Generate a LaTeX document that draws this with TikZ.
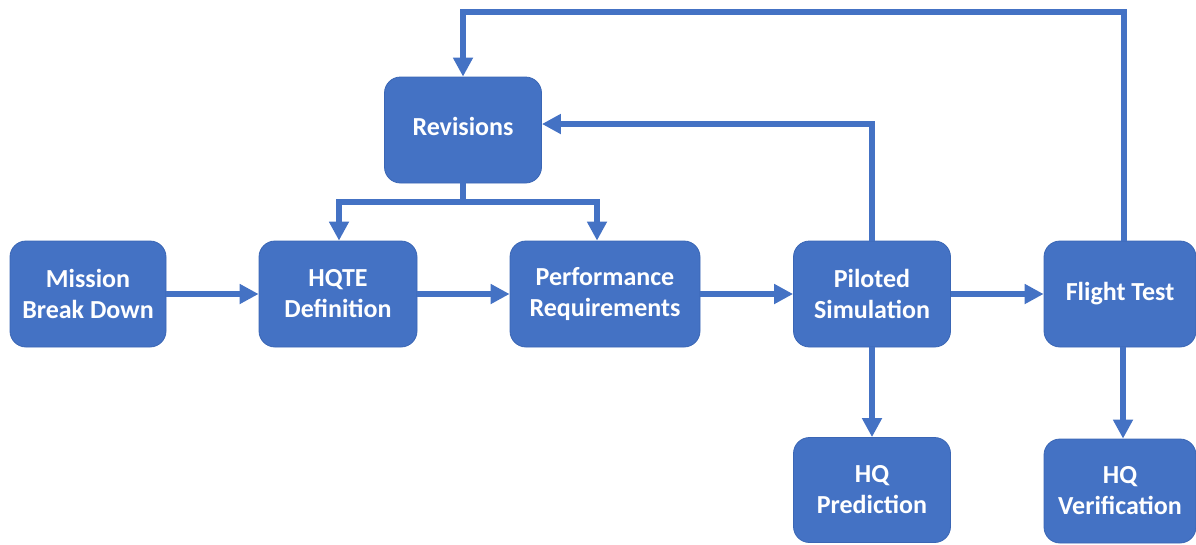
\documentclass[tikz,border=0pt]{standalone}
\usepackage{fontspec}
\setmainfont{Carlito}
\usetikzlibrary{arrows.meta}
\definecolor{boxblue}{HTML}{4472C4}
\definecolor{edgeblue}{HTML}{3A66B5}
\begin{document}
\begin{tikzpicture}[x=1pt,y=-1pt,
  box/.style={rectangle, rounded corners=16pt, fill=boxblue, draw=edgeblue, line width=0.8pt,
    text=white, font=\fontsize{26}{31}\selectfont\bfseries, align=center,
    minimum height=106pt, inner sep=0pt},
  conn/.style={draw=boxblue, line width=5.5pt, -{Triangle[length=19pt,width=19pt]}},
  plain/.style={draw=boxblue, line width=5.5pt}]
\useasboundingbox (0,0) rectangle (1196,544);
\node[box, minimum width=156pt] (mission) at (88,294) {Mission\\Break Down};
\node[box, minimum width=158pt] (hqte) at (338,294) {HQTE\\Definition};
\node[box, minimum width=190pt] (perf) at (605,294) {Performance\\Requirements};
\node[box, minimum width=157pt] (pilot) at (872,294) {Piloted\\Simulation};
\node[box, minimum width=152pt] (flight) at (1120,294) {Flight Test};
\node[box, minimum width=157pt, text depth=8pt] (rev) at (463,130) {Revisions};
\node[box, minimum width=157pt, minimum height=105pt] (pred) at (872,490) {HQ\\Prediction};
\node[box, minimum width=152pt, minimum height=104pt] (verif) at (1120,491) {HQ\\Verification};
\coordinate (topR) at (1124,12);
\coordinate (topL) at (463,12);
\coordinate (retR) at (872,124);
\coordinate (br) at (463,202);
\coordinate (brL) at (339,202);
\coordinate (brR) at (597,202);
% main chain
\draw[conn] (mission.east) -- (hqte.west);
\draw[conn] (hqte.east) -- (perf.west);
\draw[conn] (perf.east) -- (pilot.west);
\draw[conn] (pilot.east) -- (flight.west);
% outputs
\draw[conn] (pilot.south) -- (pred.north);
\draw[conn] ([xshift=3pt]flight.south) -- ([xshift=3pt]verif.north);
% feedback loops
\draw[conn] ([xshift=4pt]flight.north) -- (topR) -- (topL) -- (rev.north);
\draw[conn] (pilot.north) -- (retR) -- (retR -| rev.east);
% revisions branches
\draw[plain, line cap=rect] (rev.south) -- (br);
\draw[conn] (br) -- (brL) -- (brL |- hqte.north);
\draw[conn] (br) -- (brR) -- (brR |- perf.north);
\end{tikzpicture}
\end{document}
